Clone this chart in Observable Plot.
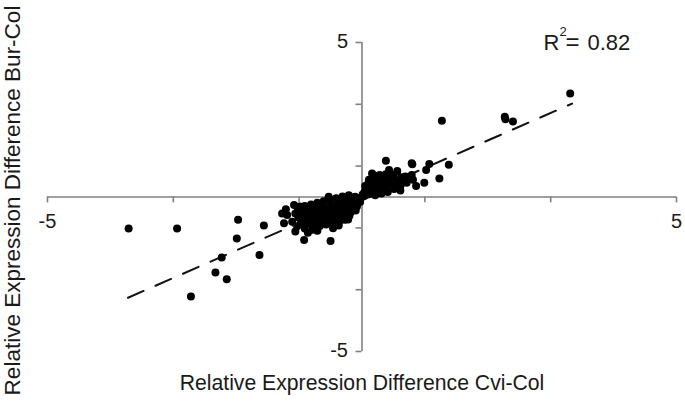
<!DOCTYPE html>
<html><head><meta charset="utf-8">
<script src="https://cdn.jsdelivr.net/npm/d3@7"></script>
<script src="https://cdn.jsdelivr.net/npm/@observablehq/plot@0.6"></script>
<style>body{margin:0;background:#fff} svg{display:block}</style>
</head><body><div id="chart"></div>
<script>
// Outlying genes (Cvi-Col on x, Bur-Col on y)
const cviLow  = [-3.71,-2.94,-1.97,-1.99,-1.56,-2.23,-2.33,-2.15,-1.63,-2.72];
const burLow  = [-1.02,-1.02,-0.74,-1.34,-0.92,-1.96,-2.44,-2.66,-1.88,-3.22];
const cviHigh = [3.31,1.27,2.27,2.28,2.40,1.38,1.23,0.99,0.86,1.07,0.80,0.61,0.38,0.79,1.02,0.56,0.43,0.16,0.69,0.58];
const burHigh = [3.35,2.47,2.60,2.52,2.44,1.04,0.60,0.46,0.36,1.07,1.06,0.21,1.17,1.09,0.87,0.84,0.87,0.76,0.66,0.28];
// Negative cluster
const cviNeg = [-1.27,-1.21,-1.19,-1.24,-1.08,-0.99,-1.06,-1.11,-1.06,-0.92,-0.79,-0.50,-0.90,-0.87,-0.53,-0.21,-0.37,-0.22,-0.54,
  -1.02,-0.98,-1.01,-0.97,-1.03,-0.91,-0.89,-0.92,-0.88,-0.91,-0.86,-0.81,-0.79,-0.82,-0.78,-0.80,-0.77,
  -0.71,-0.69,-0.72,-0.68,-0.70,-0.67,-0.71,-0.61,-0.59,-0.62,-0.58,-0.60,-0.57,
  -0.51,-0.49,-0.52,-0.48,-0.50,-0.47,-0.46,-0.41,-0.39,-0.42,-0.38,-0.40,-0.36,
  -0.31,-0.29,-0.32,-0.28,-0.30,-0.27,-0.21,-0.19,-0.22,-0.18,-0.20,
  -0.11,-0.09,-0.12,-0.08,-0.10,-0.05,-0.03,-0.15,-0.25,-0.35,-0.45,-0.55,-0.65,-0.75,-0.85];
const burNeg = [-0.53,-0.40,-0.58,-0.85,-0.26,-0.31,-0.53,-0.80,-1.12,-1.39,-1.06,-1.42,-0.90,-0.64,0.01,0.06,-0.92,-0.73,-0.86,
  -0.36,-0.52,-0.66,-0.81,-0.95,-0.29,-0.46,-0.61,-0.76,-1.02,-1.16,-0.24,-0.41,-0.56,-0.71,-0.86,-0.96,
  -0.19,-0.34,-0.51,-0.66,-0.79,-0.94,-1.09,-0.14,-0.31,-0.44,-0.61,-0.74,-0.89,
  -0.09,-0.26,-0.39,-0.56,-0.71,-0.84,-1.01,-0.04,-0.21,-0.34,-0.51,-0.66,-0.79,
  0.02,-0.14,-0.29,-0.46,-0.59,-0.74,-0.06,-0.19,-0.36,-0.49,-0.61,
  0.01,-0.11,-0.21,-0.31,-0.44,-0.04,-0.16,-0.27,-0.25,-0.42,-0.48,-0.52,-0.58,-0.63,-0.69];
// Positive cluster
const cviPos = [0.05,0.04,0.06,0.05,0.11,0.09,0.12,0.10,0.11,0.21,0.19,0.22,0.20,0.18,0.21,
  0.31,0.29,0.32,0.30,0.28,0.41,0.39,0.42,0.40,0.38,0.51,0.49,0.52,0.50,0.61,0.59,0.62,
  0.71,0.69,0.81,0.79,0.15,0.25,0.35,0.45,0.02,0.01];
const burPos = [0.05,0.16,0.26,0.36,0.09,0.21,0.31,0.44,0.56,0.06,0.16,0.29,0.46,0.61,0.69,
  0.11,0.24,0.41,0.54,0.71,0.16,0.31,0.44,0.61,0.74,0.26,0.41,0.54,0.71,0.36,0.49,0.64,
  0.46,0.59,0.56,0.71,0.38,0.35,0.48,0.52,0.02,0.08];
// Linear fit
const fitX = [-3.72, 3.34];
const fitSlope = 0.89, fitIntercept = 0.05;
const rSquared = "0.82";
const xTickValues = [-5,-3,-1,1,3,5];
const yTickValues = [-5,-3,-1,1,3,5];
const xLabelValues = [-5, 5];
const yLabelValues = [-5, 5];
const xTitle = "Relative Expression Difference Cvi-Col";
const yTitle = "Relative Expression Difference Bur-Col";

const cvi = [...cviLow, ...cviHigh, ...cviNeg, ...cviPos];
const bur = [...burLow, ...burHigh, ...burNeg, ...burPos];
const points = cvi.map((x, i) => ({x, y: bur[i]}));
const fit = fitX.map(x => ({x, y: fitSlope * x + fitIntercept}));

const font = "'Liberation Sans', Arial, Helvetica, sans-serif";
const axisColor = "#808080";
const ink = "#1a1a1a";

const chart = Plot.plot({
  width: 685, height: 407,
  marginLeft: 47, marginRight: 9, marginTop: 42, marginBottom: 56,
  x: {domain: [-5, 5], axis: null},
  y: {domain: [-5, 5], axis: null},
  style: {fontFamily: font, background: "#fff"},
  marks: [
    Plot.ruleY([0], {stroke: axisColor, strokeWidth: 1.6}),
    Plot.ruleX([0], {stroke: axisColor, strokeWidth: 1.6}),
    Plot.ruleX(xTickValues, {x: d => d, y1: 0, y2: -0.19, stroke: axisColor, strokeWidth: 1.6}),
    Plot.ruleY(yTickValues, {y: d => d, x1: 0, x2: -0.095, stroke: axisColor, strokeWidth: 1.6}),
    Plot.text(xLabelValues, {x: d => d, y: 0, text: d => String(d), dy: 25, fontSize: 20, fill: ink}),
    Plot.text(yLabelValues, {x: 0, y: d => d, text: d => String(d), dx: -14, dy: -1, textAnchor: "end", fontSize: 20, fill: ink}),
    Plot.line(fit, {x: "x", y: "y", stroke: "#111", strokeWidth: 2, strokeDasharray: "17,13"}),
    Plot.dot(points, {x: "x", y: "y", r: 4, fill: "#000", stroke: "none"}),
    Plot.text(["R"], {frameAnchor: "top-right", dx: -133, dy: 0, textAnchor: "start", lineAnchor: "middle", fontSize: 22, fill: ink}),
    Plot.text(["2"], {frameAnchor: "top-right", dx: -117, dy: -11, textAnchor: "start", lineAnchor: "middle", fontSize: 13, fill: ink}),
    Plot.text(["="], {frameAnchor: "top-right", dx: -111, dy: 0, textAnchor: "start", lineAnchor: "middle", fontSize: 24, fill: ink}),
    Plot.text([rSquared], {frameAnchor: "top-right", dx: -89, dy: 0, textAnchor: "start", lineAnchor: "middle", fontSize: 22, fill: ink, style: "letter-spacing:1.2px"}),
    Plot.text([xTitle], {frameAnchor: "bottom", dy: 32, textAnchor: "middle", lineAnchor: "middle", fontSize: 21.2, fill: ink}),
    Plot.text([yTitle], {frameAnchor: "left", dx: -35, dy: 3.5, rotate: -90, textAnchor: "middle", lineAnchor: "middle", fontSize: 22.5, fill: ink})
  ]
});
document.getElementById("chart").appendChild(chart);
</script>
</body></html>
